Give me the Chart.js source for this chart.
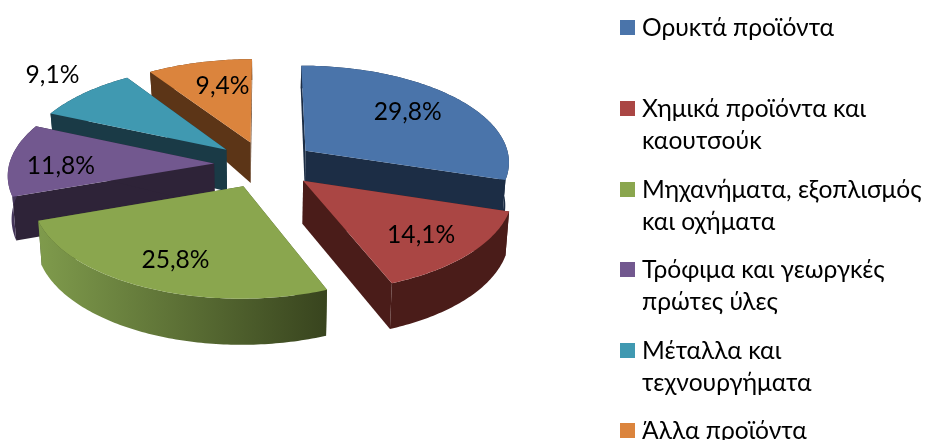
<!DOCTYPE html>
<html lang="en">
<head>
<meta charset="UTF-8">
<title>Pie</title>
<script src="https://cdn.jsdelivr.net/npm/chart.js"></script>
<style>
  html, body { margin: 0; padding: 0; background: #fff; overflow: hidden; }
  #wrap { position: relative; width: 926px; height: 440px; overflow: hidden; }
  #legend div { position: absolute; left: 642px; font: 24.6px/32px Lato, "Noto Sans", sans-serif; color: #000; white-space: pre; }
  #legend i { position: absolute; left: -22px; top: 9px; width: 15px; height: 15px; }
</style>
</head>
<body>
<div id="wrap">
  <canvas id="pie" width="926" height="440"></canvas>
  <div id="legend"></div>
</div>
<script>
const categories = [
  'Ορυκτά προϊόντα',
  'Χημικά προϊόντα και\nκαουτσούκ',
  'Μηχανήματα, εξοπλισμός\nκαι οχήματα',
  'Τρόφιμα και γεωργκές\nπρώτες ύλες',
  'Μέταλλα και\nτεχνουργήματα',
  'Άλλα προϊόντα'
];
const shares = [29.8, 14.1, 25.8, 11.8, 9.1, 9.4];

const topColors = ['#4a74aa', '#aa4644', '#8aa64e', '#72588f', '#4099b1', '#db843d'];
const cutColors = ['#1c2d45', '#4a1c19', '#46552a', '#2e2338', '#1a3a46', '#5c3517'];
const wallLeft = ['#1c2d45', '#4a1c19', '#7f9b4c', '#4a3a62', '#1a3a46', '#5c3517'];
const wallRight = ['#1c2d45', '#4a1c19', '#38441e', '#2e2338', '#1a3a46', '#5c3517'];
const labelRadius = [190, 203, 205, 204, 318, 190];
const labelDx = [-2, -3, 3, -1, 8, 8];
const labelDy = [-3, 3, 2, 5, -5, -2];
const legendTops = [11, 92, 173, 253, 334, 414];

// fake perspective, fitted by eye
const squeezeX = 0.962;
function persp(y) { return 1 + 0.00048 * y; }
function depth(y) { return y < -20 ? 43 + (y + 20) * 0.092 : 43 + y * 0.012; }
function project(cx, cy, x, y, z) {
  const s = persp(y);
  return [cx + x * s * (1 - 0.015 * z), cy + 0.46 * y * s + z * depth(y)];
}

function slicePoints(arc) {
  const mid = (arc.startAngle + arc.endAngle) / 2;
  const ox = arc.options.offset * Math.cos(mid);
  const oy = arc.options.offset * Math.sin(mid);
  const pts = [];
  const steps = Math.ceil((arc.endAngle - arc.startAngle) * 60);
  for (let i = 0; i <= steps; i++) {
    const a = arc.startAngle + (arc.endAngle - arc.startAngle) * i / steps;
    pts.push([ox + squeezeX * arc.outerRadius * Math.cos(a), oy + arc.outerRadius * Math.sin(a)]);
  }
  return { apex: [ox, oy], pts };
}

function fillPoly(ctx, pts, color) {
  ctx.beginPath();
  pts.forEach((p, i) => i ? ctx.lineTo(p[0], p[1]) : ctx.moveTo(p[0], p[1]));
  ctx.closePath();
  ctx.fillStyle = color;
  ctx.fill();
}

const pie3d = {
  id: 'pie3d',
  beforeDatasetDraw(chart, args) {
    const ctx = chart.ctx;
    const arcs = args.meta.data;
    const order = arcs.map((a, i) => i).sort((i, j) => {
      const mi = (arcs[i].startAngle + arcs[i].endAngle) / 2;
      const mj = (arcs[j].startAngle + arcs[j].endAngle) / 2;
      return Math.sin(mi) - Math.sin(mj);
    });
    order.forEach(i => {
      const arc = arcs[i];
      const { apex, pts } = slicePoints(arc);
      const P = (p, z) => project(arc.x, arc.y, p[0], p[1], z);
      const first = pts[0], last = pts[pts.length - 1];

      // cut faces
      fillPoly(ctx, [P(apex, 0), P(first, 0), P(first, 1), P(apex, 1)], cutColors[i]);
      fillPoly(ctx, [P(apex, 0), P(last, 0), P(last, 1), P(apex, 1)], cutColors[i]);

      // outer wall
      const top = pts.map(p => P(p, 0));
      const bottom = pts.map(p => P(p, 1)).reverse();
      const xs = top.map(p => p[0]);
      const grad = ctx.createLinearGradient(Math.min(...xs), 0, Math.max(...xs), 0);
      grad.addColorStop(0, wallLeft[i]);
      grad.addColorStop(1, wallRight[i]);
      fillPoly(ctx, top.concat(bottom), grad);

      // top face
      fillPoly(ctx, [P(apex, 0)].concat(top), arc.options.backgroundColor);
    });
    return false;
  },
  // returning false above also skips afterDatasetDraw, so labels go here
  afterDatasetsDraw(chart) {
    const ctx = chart.ctx;
    ctx.font = '24.6px Lato, "Noto Sans", sans-serif';
    ctx.fillStyle = '#000';
    ctx.textAlign = 'center';
    ctx.textBaseline = 'middle';
    chart.getDatasetMeta(0).data.forEach((arc, i) => {
      const mid = (arc.startAngle + arc.endAngle) / 2;
      const p = project(arc.x, arc.y, labelRadius[i] * Math.cos(mid), labelRadius[i] * Math.sin(mid), 0);
      ctx.fillText(shares[i].toFixed(1).replace('.', ',') + '%', p[0] + labelDx[i], p[1] + labelDy[i]);
    });
  }
};

new Chart(document.getElementById('pie'), {
  type: 'pie',
  data: {
    labels: categories,
    datasets: [{ data: shares, backgroundColor: topColors, borderWidth: 0, offset: 51, radius: 213 }]
  },
  options: {
    responsive: false,
    animation: false,
    events: [],
    layout: { padding: { left: 0, top: 0, right: 396, bottom: 111 } },
    plugins: { legend: { display: false }, tooltip: { enabled: false } }
  },
  plugins: [pie3d]
});

// legend is html, chart.js won't wrap these labels
const legend = document.getElementById('legend');
categories.forEach((name, i) => {
  const item = document.createElement('div');
  item.style.top = legendTops[i] + 'px';
  item.textContent = name;
  const box = document.createElement('i');
  box.style.background = topColors[i];
  item.appendChild(box);
  legend.appendChild(item);
});
</script>
</body>
</html>
